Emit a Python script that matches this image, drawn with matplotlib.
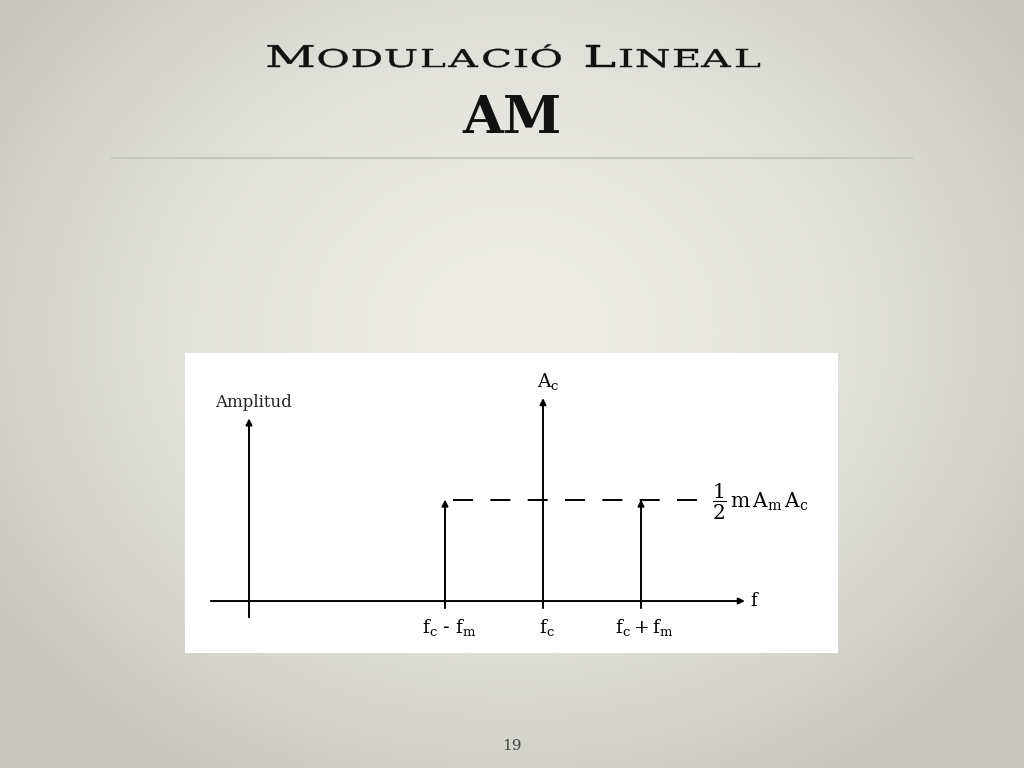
import numpy as np
import matplotlib
matplotlib.use("Agg")
import matplotlib.pyplot as plt
from matplotlib.textpath import TextPath
from matplotlib.patches import PathPatch
from matplotlib.font_manager import FontProperties
from matplotlib.transforms import Affine2D

# spectrum data (x in units of f_m from the amplitude axis, amplitude relative to A_c)
line_labels = [r"$\mathrm{f_c}$ - $\mathrm{f_m}$", r"$\mathrm{f_c}$", r"$\mathrm{f_c + f_m}$"]
line_pos = [2.0, 3.0, 4.0]
line_amp = [0.5, 1.0, 0.5]
title_runs = [("M", 30), ("ODULACIÓ", 24.5), (" ", 24.5), ("L", 30), ("INEAL", 24.5)]
subtitle = "AM"
page_no = "19"

plt.rcParams["mathtext.fontset"] = "dejavuserif"

fig = plt.figure(figsize=(10.24, 7.68), dpi=100)

# slide background, soft radial gradient
bg = fig.add_axes([0, 0, 1, 1])
yy, xx = np.mgrid[0:768, 0:1024]
r = np.sqrt(((xx - 512) / 620.0) ** 2 + ((yy - 330) / 520.0) ** 2)
shade = np.clip(r, 0, 1) ** 2
c0 = np.array([236, 235, 230]) / 255.0
c1 = np.array([198, 198, 190]) / 255.0
img = c0[None, None, :] * (1 - shade[..., None]) + c1[None, None, :] * shade[..., None]
bg.imshow(img, extent=[0, 1024, 768, 0], aspect="auto")
bg.set_xlim(0, 1024)
bg.set_ylim(768, 0)
bg.axis("off")

# title in wide small caps, built from glyph paths (sizes in pixels)
fp = FontProperties(family="DejaVu Serif")
tracking = 3.0
glyphs = []
for txt, size in title_runs:
    for ch in txt:
        if ch == " ":
            glyphs.append((None, 10.0))
            continue
        p = TextPath((0, 0), ch, size=size, prop=fp)
        ext = p.get_extents()
        glyphs.append((p, ext.x1))
raw = sum(w for _, w in glyphs) + tracking * (len(glyphs) - 1)
sx = (495 - tracking * (len(glyphs) - 1)) / (raw - tracking * (len(glyphs) - 1))
x = 265.0
for p, w in glyphs:
    if p is not None:
        tr = Affine2D().scale(sx, -1).translate(x, 67)
        bg.add_patch(PathPatch(tr.transform_path(p), facecolor="#111111",
                               edgecolor="#111111", lw=0.3))
    x += w * sx + tracking

bg.text(512, 133, subtitle, fontsize=38, family="DejaVu Serif", weight="bold",
        color="#111111", ha="center", va="baseline")
bg.plot([112, 912], [158, 158], color="#c6c6c1", lw=1.5)
bg.text(512, 750, page_no, fontsize=11, family="DejaVu Serif", color="#444444",
        ha="center", va="baseline")

# spectrum panel
ax = fig.add_axes([185 / 1024, 115 / 768, 653 / 1024, 300 / 768])
ax.set_facecolor("white")
ax.set_xlim(-0.653, 6.01)
ax.set_ylim(-0.256, 1.222)
for s in ax.spines.values():
    s.set_visible(False)
ax.set_xticks([])
ax.set_yticks([])

arrow = dict(arrowstyle="-|>", lw=1.4, color="black", mutation_scale=9,
             shrinkA=0, shrinkB=0)
# frequency axis
ax.annotate("", xy=(5.06, 0), xytext=(-0.39, 0), arrowprops=arrow)
# amplitude axis
ax.annotate("", xy=(0, 0.90), xytext=(0, -0.08), arrowprops=arrow)
ax.text(-0.35, 0.98, "Amplitud", fontsize=12, family="DejaVu Serif", ha="left",
        va="center", color="#222222")
ax.text(5.12, 0, "f", fontsize=13, family="DejaVu Serif", ha="left", va="center")

# dashed sideband level
dash, = ax.plot([2.08, 4.57], [0.5, 0.5], color="black", lw=1.4)
dash.set_dashes([10.3, 8.9])
ax.text(4.72, 0.49, r"$\dfrac{1}{2}\,\mathrm{m\,A_m\,A_c}$", fontsize=14.5,
        ha="left", va="center")

# spectral lines
for xp, amp, lab in zip(line_pos, line_amp, line_labels):
    ax.annotate("", xy=(xp, amp), xytext=(xp, -0.035), arrowprops=arrow)
    ax.text(xp + 0.04, -0.13, lab, fontsize=13.5, ha="center", va="center")
ax.text(3.05, 1.08, r"$\mathrm{A_c}$", fontsize=13.5, ha="center", va="center")

fig.savefig("out.png", dpi=100)
